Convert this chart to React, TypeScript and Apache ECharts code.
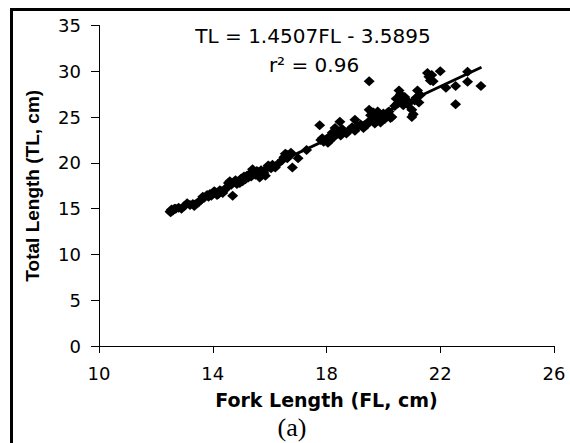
import React, { useEffect, useRef } from "react";
import * as echarts from "echarts";

const xTicks = [10, 14, 18, 22, 26];
const yTicks = [0, 5, 10, 15, 20, 25, 30, 35];

// Fork length (cm), total length (cm)
const forkLength = [
  12.5, 12.52, 12.55, 12.6, 12.65, 12.7, 12.8, 12.9, 13.0, 13.1, 13.2, 13.3, 13.35, 13.45, 13.5, 13.6, 13.65, 13.7, 13.8, 13.85,
  13.9, 13.95, 14.0, 14.05, 14.1, 14.15, 14.2, 14.25, 14.3, 14.35, 14.4, 14.45, 14.5, 14.55, 14.6, 14.65, 14.7, 14.75, 14.8, 14.85,
  14.9, 14.95, 15.0, 15.05, 15.1, 15.15, 15.2, 15.25, 15.3, 15.35, 15.4, 15.45, 15.5, 15.55, 15.6, 15.65, 15.7, 15.75, 15.8, 15.85,
  15.9, 15.95, 16.0, 16.05, 16.1, 16.15, 16.2, 16.3, 16.45, 16.5, 16.55, 16.6, 16.62, 16.65, 16.7, 16.75, 16.8, 17.0, 17.3,
  17.76, 17.8, 17.85, 17.9, 18.0, 18.05, 18.1, 18.15, 18.2, 18.25, 18.3, 18.35, 18.4, 18.47, 18.5, 18.55, 18.6, 18.7, 18.8, 18.9,
  19.0, 19.0, 19.1, 19.2, 19.3, 19.4, 19.45, 19.5, 19.5, 19.5, 19.55, 19.6, 19.6, 19.65, 19.7, 19.7, 19.75, 19.8, 19.85, 19.9,
  19.95, 20.0, 20.05, 20.1, 20.15, 20.2, 20.25, 20.3, 20.4, 20.45, 20.5, 20.55, 20.6, 20.65, 20.7, 20.75, 20.8, 20.85, 20.9, 21.0,
  21.0, 21.05, 21.1, 21.15, 21.2, 21.25, 21.3, 21.55, 21.6, 21.65, 21.7, 21.75, 22.0, 22.2, 22.54, 22.54, 22.96, 22.96, 23.43,
];
const totalLength = [
  14.7, 14.6, 14.9, 14.8, 15.0, 15.0, 15.1, 15.0, 15.3, 15.6, 15.4, 15.5, 15.3, 15.6, 15.7, 16.0, 16.3, 16.2, 16.5, 16.3,
  16.6, 16.4, 16.7, 16.9, 16.8, 16.5, 16.6, 17.0, 16.9, 16.7, 17.0, 17.2, 17.3, 17.8, 18.0, 17.6, 16.4, 17.9, 18.1, 17.7,
  18.0, 17.8, 18.3, 18.0, 18.5, 18.2, 18.6, 18.4, 18.8, 18.5, 19.3, 18.9, 18.7, 19.1, 19.0, 18.4, 19.2, 18.8, 18.9, 18.6,
  19.4, 19.7, 19.6, 19.4, 19.8, 19.6, 19.5, 19.9, 20.3, 20.6, 21.0, 20.9, 20.5, 20.7, 20.8, 21.1, 19.5, 20.5, 21.4,
  24.1, 22.5, 22.7, 22.3, 22.6, 22.2, 22.4, 23.0, 23.3, 22.8, 23.8, 23.5, 23.2, 24.5, 23.0, 23.7, 23.4, 23.2, 23.6, 23.9,
  24.7, 23.5, 24.0, 24.2, 23.8, 24.1, 24.4, 28.9, 24.5, 25.8, 25.2, 24.8, 25.5, 25.5, 25.0, 24.3, 24.6, 25.6, 25.3, 24.4,
  25.1, 25.4, 24.8, 25.2, 25.5, 25.6, 24.9, 25.0, 26.2, 27.0, 26.5, 27.9, 27.5, 26.8, 26.3, 27.2, 26.9, 26.4, 26.6, 25.8,
  25.0, 25.3, 26.8, 27.1, 27.9, 26.6, 27.4, 29.8, 29.4, 29.0, 29.6, 28.9, 30.0, 28.2, 28.4, 26.4, 29.95, 28.85, 28.4,
];

// Trend line end points: TL = 1.4507FL - 3.5895
const trendFL = [12.45, 23.45];
const trendTL = [14.47, 30.43];

const equationText = "TL = 1.4507FL - 3.5895";
const r2Text = "r² = 0.96";
const xTitle = "Fork Length (FL, cm)";
const yTitle = "Total Length (TL, cm)";
const panelLabel = "(a)";

export default function App() {
  const ref = useRef<HTMLDivElement>(null);
  useEffect(() => {
    if (!ref.current) return;
    const chart = echarts.init(ref.current, null, { renderer: "svg" });
    const points = forkLength.map((fl, i) => [fl, totalLength[i]]);
    const trend = trendFL.map((fl, i) => [fl, trendTL[i]]);
    const sans = "DejaVu Sans";
    chart.setOption({
      animation: false,
      backgroundColor: "#ffffff",
      grid: { left: 99, right: 16, top: 25.5, bottom: 97, containLabel: false },
      xAxis: {
        type: "value",
        min: 10,
        max: 26,
        interval: 4,
        name: xTitle,
        nameLocation: "middle",
        nameGap: 44,
        nameTextStyle: { fontFamily: sans, fontWeight: "bold", fontSize: 19, color: "#000" },
        axisLine: { show: true, onZero: false, lineStyle: { color: "#000", width: 1 } },
        axisTick: { show: true, length: 7, lineStyle: { color: "#000" } },
        axisLabel: { fontFamily: sans, fontSize: 18, color: "#000", margin: 18, formatter: (v: number) => (xTicks.includes(v) ? String(v) : "") },
        splitLine: { show: false },
      },
      yAxis: {
        type: "value",
        min: 0,
        max: 35,
        interval: 5,
        name: yTitle,
        nameLocation: "middle",
        nameRotate: 90,
        nameGap: 57,
        nameTextStyle: { fontFamily: "Liberation Sans", fontWeight: "bold", fontSize: 19, color: "#000" },
        axisLine: { show: true, onZero: false, lineStyle: { color: "#000", width: 1 } },
        axisTick: { show: true, length: 8, lineStyle: { color: "#000" } },
        axisLabel: { fontFamily: sans, fontSize: 18, color: "#000", margin: 18, formatter: (v: number) => (yTicks.includes(v) ? String(v) : "") },
        splitLine: { show: false },
      },
      graphic: [
        {
          type: "rect",
          shape: { x: 11.5, y: 9.5, width: 600, height: 500 },
          style: { fill: "none", stroke: "#000", lineWidth: 3 },
          silent: true,
        },
        {
          type: "text",
          x: 313,
          y: 36,
          style: { text: equationText, fontFamily: sans, fontSize: 20, fill: "#000", align: "center", verticalAlign: "middle" },
        },
        {
          type: "text",
          x: 314,
          y: 65,
          style: { text: r2Text, fontFamily: sans, fontSize: 20, fill: "#000", align: "center", verticalAlign: "middle" },
        },
        {
          type: "text",
          x: 292,
          y: 427,
          style: { text: panelLabel, fontFamily: "Liberation Serif", fontSize: 26, fill: "#000", align: "center", verticalAlign: "middle" },
        },
      ],
      series: [
        {
          type: "scatter",
          data: points,
          symbol: "diamond",
          symbolSize: [11, 10],
          itemStyle: { color: "#000", opacity: 1 },
          z: 3,
        },
        {
          type: "line",
          data: trend,
          showSymbol: false,
          symbol: "none",
          lineStyle: { color: "#000", width: 2.8 },
          z: 4,
        },
      ],
    });
    return () => chart.dispose();
  }, []);
  return <div ref={ref} style={{ position: "fixed", left: 0, top: 0, width: 570, height: 443 }} />;
}
